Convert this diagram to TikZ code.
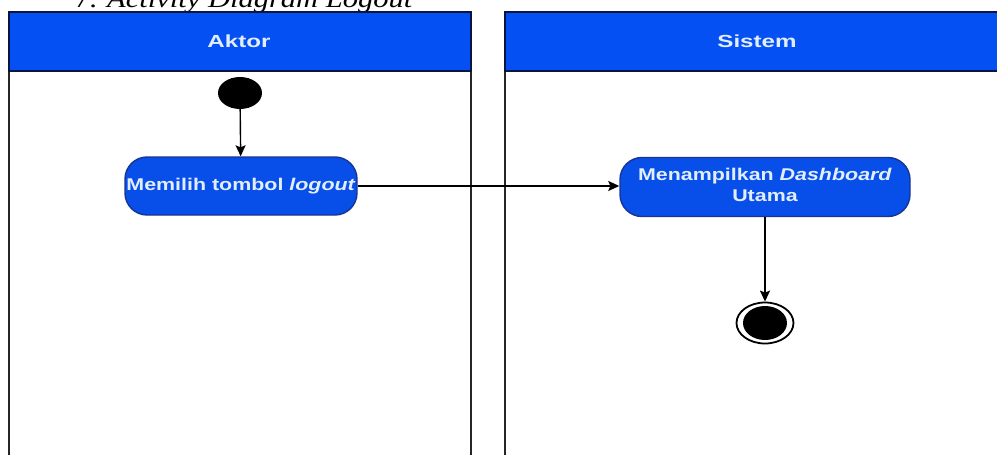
\documentclass[tikz,border=0pt]{standalone}
\usepackage{fontspec}
\setmainfont{Liberation Serif}
\newfontfamily\lanefont{Liberation Sans}
\usetikzlibrary{shapes.geometric,arrows.meta}
\definecolor{laneblue}{RGB}{4,80,242}
\definecolor{actblue}{RGB}{8,78,232}
\definecolor{actedge}{RGB}{24,52,150}
\definecolor{headedge}{RGB}{10,20,60}
\definecolor{paletext}{RGB}{225,238,255}
% horizontally widened bold sans text: size, x-stretch, content
\newcommand{\widesans}[3]{\scalebox{#2}[1]{\fontsize{#1}{#1}\selectfont\lanefont\bfseries #3}}
\begin{document}
\begin{tikzpicture}[x=1pt,y=-1pt,
  lanehead/.style={draw=headedge, line width=2.8pt, fill=laneblue},
  laneline/.style={draw=black!85, line width=2.8pt},
  action/.style={draw=actedge, line width=1.4pt, fill=actblue, rounded corners=22pt,
    text=paletext, align=center, inner sep=0pt},
  flow/.style={draw=black, line width=1.4pt, -{Stealth[length=11pt,width=10pt,inset=2pt]}},
  headtext/.style={text=paletext, inner sep=0pt}]
\useasboundingbox (0,0) rectangle (997,455);
% caption above the swimlanes
\node[anchor=base west, inner sep=0pt] (caption) at (74,8)
  {\scalebox{1.22}[1]{\fontsize{25}{25}\selectfont 7. \textit{Activity Diagram Logout}}};
% swimlane bodies
\draw[laneline] (9,71) -- (9,470);
\draw[laneline] (471,71) -- (471,470);
\draw[laneline] (505,71) -- (505,470);
% swimlane headers
\draw[lanehead] (9,12) rectangle (471,71);
\draw[lanehead] (505,12) rectangle (1010,71);
\node[headtext] (aktor) at (239,41) {\widesans{17.5}{1.38}{Aktor}};
\node[headtext] (sistem) at (757,41) {\widesans{17.5}{1.38}{Sistem}};
% start node
\node[ellipse, fill=black, minimum width=44pt, minimum height=32pt, inner sep=0pt] (start) at (240,93) {};
% actions
\node[action, minimum width=232pt, minimum height=58pt] (logout) at (241,186)
  {\widesans{17}{1.26}{Memilih tombol \textit{logout}}};
\node[action, minimum width=290pt, minimum height=59pt] (dash) at (765,187)
  {\scalebox{1.26}[1]{\fontsize{17}{19}\selectfont\lanefont\bfseries\begin{tabular}{@{}c@{}}Menampilkan \textit{Dashboard}\\[2pt] Utama\end{tabular}}};
% end node
\node[ellipse, draw=black, line width=1.8pt, fill=white, minimum width=57pt, minimum height=41pt, inner sep=0pt] (finish) at (765,323) {};
\node[ellipse, fill=black, minimum width=44pt, minimum height=34pt, inner sep=0pt] (finishdot) at (765,323) {};
% control flows
\draw[flow] (start) -- (logout);
\draw[flow] (logout) -- (logout -| dash.west);
\draw[flow] (dash) -- (finish);
\end{tikzpicture}
\end{document}
